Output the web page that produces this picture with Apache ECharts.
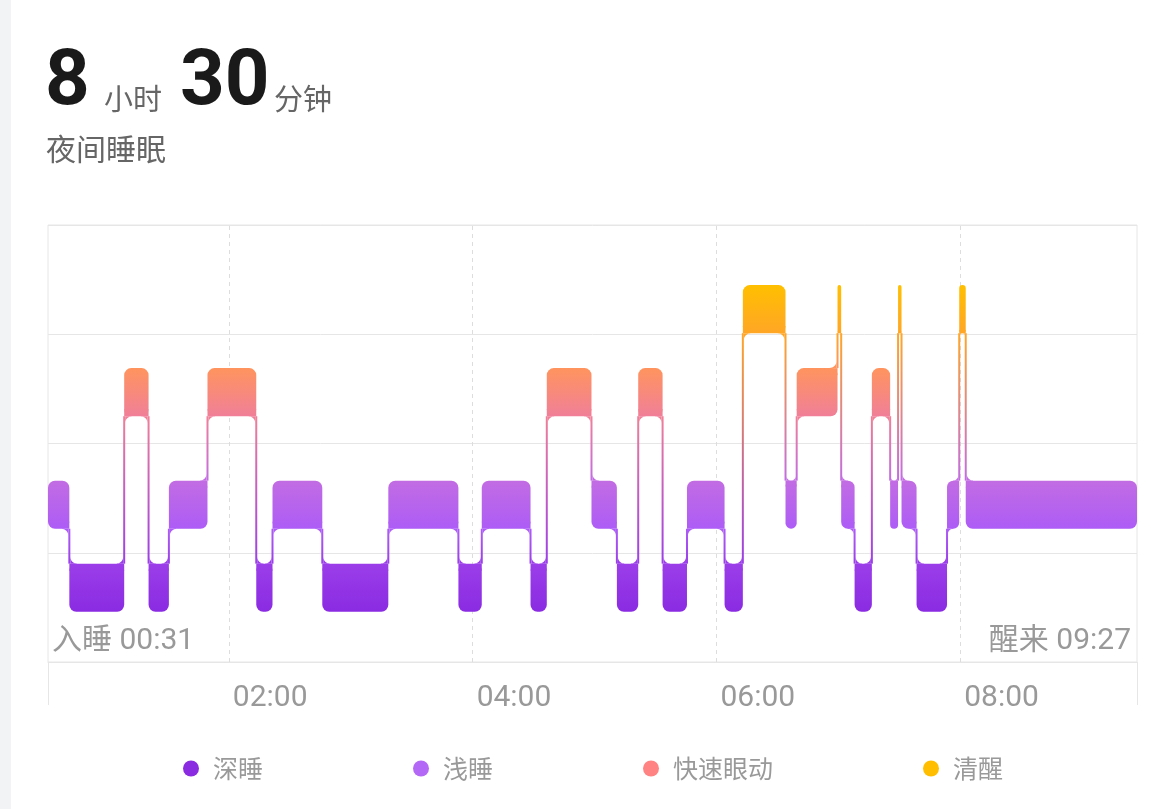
<!DOCTYPE html>
<html>
<head>
<meta charset="utf-8">
<title>夜间睡眠</title>
<script src="https://cdn.jsdelivr.net/npm/echarts@6.0.0/dist/echarts.min.js"></script>
<style>
  html, body { margin: 0; padding: 0; background: #fff; }
  #main { width: 1151px; height: 809px; }
</style>
</head>
<body>
<div id="main"></div>
<script>
// 睡眠阶段: 0 深睡 1 浅睡 2 快速眼动 3 清醒
const stageNames = ['深睡', '浅睡', '快速眼动', '清醒'];
// 分段边界（当天分钟数），segStages[i] 对应 segBounds[i] ~ segBounds[i + 1]
const segBounds = [
  31, 41.5, 68.5, 80.5, 90.5, 109.5, 133.5, 141.5, 166, 198.5,
  233, 244.5, 268.5, 276.5, 298.5, 311, 321.5, 333.5, 345.5, 364,
  373, 394, 399.5, 419.6, 421.4, 428, 436.5, 445.5, 449.4, 451.1,
  458.5, 473.5, 479.5, 482.7, 567
];
const segStages = [
  1, 0, 2, 0, 1, 2, 0, 1, 0, 1,
  0, 1, 0, 2, 1, 0, 2, 0, 1, 0,
  3, 1, 2, 3, 1, 0, 2, 1, 3, 1,
  0, 1, 3, 1
];
const hourTicks = [120, 240, 360, 480];
const sleepHours = 8;
const sleepMinutes = 30;

const LEVEL = [0.68, 1.44, 2.47, 3.23]; // 每个阶段色条中心所在的 y 值
const BAR_H = 0.44;
const RAD = 7;
const HALF = 1;
const palette = [
  ['#9B3EE9', '#8A2BE2'],
  ['#C26CE3', '#AD5CF6'],
  ['#FF945E', '#F07F98'],
  ['#FFBF00', '#FFA626']
];
const legendColors = ['#8A2BE2', '#B469F6', '#FF8383', '#FFBF00'];

function hhmm(m) {
  const h = Math.floor(m / 60), mm = Math.round(m % 60);
  return String(h).padStart(2, '0') + ':' + String(mm).padStart(2, '0');
}

function grad(y1, y2, c1, c2) {
  return new echarts.graphic.LinearGradient(0, y1, 0, y2, [
    { offset: 0, color: c1 },
    { offset: 1, color: c2 }
  ], true);
}

function barBox(api, i) {
  const s = segStages[i];
  const a = api.coord([segBounds[i], LEVEL[s]]);
  const b = api.coord([segBounds[i + 1], LEVEL[s]]);
  const h = api.size([0, BAR_H])[1];
  return { s: s, x0: a[0], x1: b[0], top: a[1] - h / 2, bot: a[1] + h / 2 };
}

// 连接线和色条之间的内凹圆角
function fillet(cx, cy, sx, sy, f, fill) {
  const k = 0.5523;
  const d = 'M' + cx + ' ' + cy +
    'L' + (cx + sx * f) + ' ' + cy +
    'C' + (cx + sx * f * (1 - k)) + ' ' + cy + ' ' +
    cx + ' ' + (cy + sy * f * (1 - k)) + ' ' +
    cx + ' ' + (cy + sy * f) + 'Z';
  return { type: 'path', z2: 3, shape: { pathData: d }, style: { fill: fill } };
}

function renderSleep(params, api) {
  const i = params.dataIndex;
  const b = barBox(api, i);
  const w = b.x1 - b.x0;
  const fill = grad(b.top, b.bot, palette[b.s][0], palette[b.s][1]);
  const cw = Math.min(RAD, w / 2);
  const f = Math.max(0, Math.min(RAD, w / 2 - HALF));
  const kids = [{
    type: 'rect', z2: 3,
    shape: { x: b.x0, y: b.top, width: w, height: b.bot - b.top, r: cw },
    style: { fill: fill }
  }];
  [-1, 1].forEach(function (dir) {
    const j = i + dir;
    if (j < 0 || j >= segStages.length) return;
    const nb = barBox(api, j);
    const tx = dir < 0 ? b.x0 : b.x1;
    const up = b.s > nb.s;
    const cx = dir < 0 ? b.x0 : b.x1 - cw;
    const ex = tx - dir * HALF;
    if (up) {
      kids.push({ type: 'rect', z2: 3, shape: { x: cx, y: b.bot - cw, width: cw, height: cw }, style: { fill: fill } });
      if (f > 0) kids.push(fillet(ex, b.bot, -dir, 1, f, fill));
    } else {
      kids.push({ type: 'rect', z2: 3, shape: { x: cx, y: b.top, width: cw, height: cw }, style: { fill: fill } });
      if (f > 0) kids.push(fillet(ex, b.top, -dir, -1, f, fill));
    }
    if (dir > 0) {
      const hi = up ? b : nb, lo = up ? nb : b;
      kids.push({
        type: 'rect', z2: 1,
        shape: { x: tx - HALF, y: hi.bot, width: 2 * HALF, height: lo.top - hi.bot },
        style: { fill: grad(hi.bot, lo.top, palette[hi.s][1], palette[lo.s][0]) }
      });
    }
  });
  return { type: 'group', children: kids };
}

const segData = segStages.map(function (s, i) {
  return [segBounds[i], segBounds[i + 1], s];
});

const chart = echarts.init(document.getElementById('main'), null, { renderer: 'canvas' });

const bigFont = 'Roboto, "Noto Sans CJK SC", sans-serif';
const cjkFont = '"Noto Sans CJK SC", sans-serif';

const option = {
  animation: false,
  backgroundColor: '#fff',
  textStyle: { fontFamily: bigFont },
  graphic: [
    { type: 'rect', left: 0, top: 0, shape: { width: 11, height: 809 }, style: { fill: '#F2F3F5' }, silent: true },
    { type: 'text', x: 45, y: 84, style: { text: String(sleepHours), font: 'bold 78px ' + bigFont, fill: '#1A1A1A', verticalAlign: 'middle' } },
    { type: 'text', x: 104, y: 99, style: { text: '小时', font: '29px ' + cjkFont, fill: '#666', verticalAlign: 'middle' } },
    { type: 'text', x: 180, y: 84, style: { text: String(sleepMinutes), font: 'bold 78px ' + bigFont, fill: '#1A1A1A', verticalAlign: 'middle' } },
    { type: 'text', x: 274, y: 99, style: { text: '分钟', font: '29px ' + cjkFont, fill: '#666', verticalAlign: 'middle' } },
    { type: 'text', x: 46, y: 149, style: { text: '夜间睡眠', font: '30px ' + cjkFont, fill: '#666', verticalAlign: 'middle' } },
    { type: 'text', x: 52, y: 641, style: { text: '入睡 ' + hhmm(segBounds[0]), font: '30px ' + bigFont, fill: '#999', verticalAlign: 'middle' } },
    { type: 'text', x: 1131, y: 641, style: { text: '醒来 ' + hhmm(segBounds[segBounds.length - 1]), font: '30px ' + bigFont, fill: '#999', verticalAlign: 'middle', align: 'right' } }
  ],
  legend: {
    left: 178,
    top: 751,
    icon: 'circle',
    itemWidth: 16,
    itemHeight: 16,
    itemGap: 150,
    selectedMode: false,
    data: stageNames,
    itemStyle: { opacity: 1 },
    textStyle: { fontSize: 25, color: '#999', fontFamily: cjkFont, padding: [0, 0, 0, 9], lineHeight: 25 }
  },
  grid: {
    left: 48, right: 14, top: 225, bottom: 147,
    show: true, borderColor: '#E6E6E6', borderWidth: 1
  },
  xAxis: {
    type: 'value',
    min: segBounds[0],
    max: segBounds[segBounds.length - 1],
    axisLine: { show: true, lineStyle: { color: '#E6E6E6' } },
    axisTick: { show: true, customValues: [segBounds[0], segBounds[segBounds.length - 1]], length: 43, lineStyle: { color: '#E6E6E6' } },
    axisLabel: {
      customValues: hourTicks,
      formatter: function (v) { return hhmm(v); },
      align: 'left',
      margin: 21,
      padding: [0, 0, 0, 4],
      fontSize: 30,
      color: '#999',
      fontFamily: bigFont
    },
    splitLine: { show: false }
  },
  yAxis: {
    type: 'value',
    min: 0,
    max: 4,
    interval: 1,
    axisLine: { show: false },
    axisTick: { show: false },
    axisLabel: { show: false },
    splitLine: { lineStyle: { color: '#E6E6E6' } }
  },
  series: [
    {
      type: 'custom',
      name: '睡眠',
      z: 3,
      renderItem: renderSleep,
      encode: { x: [0, 1], y: 2 },
      data: segData,
      markLine: {
        silent: true,
        z: 1,
        symbol: ['none', 'none'],
        label: { show: false },
        lineStyle: { type: [4, 4], color: '#DDDDDD', width: 1 },
        data: hourTicks.map(function (t) { return { xAxis: t }; })
      }
    }
  ].concat(stageNames.map(function (n, k) {
    return { type: 'scatter', name: n, data: [], itemStyle: { color: legendColors[k], opacity: 1 } };
  }))
};

chart.setOption(option);
</script>
</body>
</html>
